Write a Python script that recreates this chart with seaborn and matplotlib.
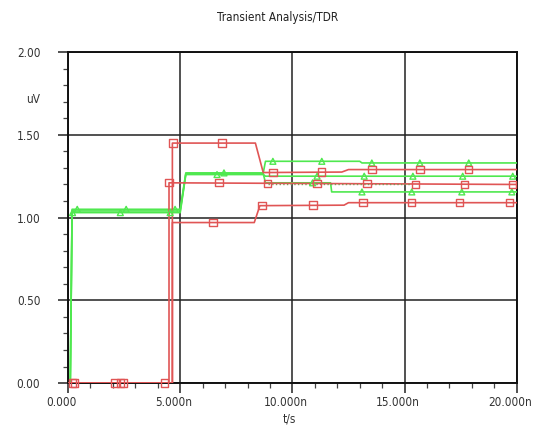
import numpy as np
import matplotlib
matplotlib.use("Agg")
import matplotlib.pyplot as plt
import matplotlib.transforms as mtrans
from matplotlib.ticker import MultipleLocator, FixedLocator
import seaborn as sns

# ---- data (time in ns, voltage in uV) ----
# red traces
r1_t = [0, 4.65, 4.65, 8.35, 8.7, 12.2, 12.5, 20]
r1_v = [0, 0, 1.45, 1.45, 1.272, 1.275, 1.29, 1.29]
r2_t = [0, 4.5, 4.5, 20]
r2_v = [0, 0, 1.21, 1.20]
r3_t = [0, 4.65, 4.65, 8.3, 8.55, 12.3, 12.5, 20]
r3_v = [0, 0, 0.97, 0.97, 1.072, 1.075, 1.09, 1.09]

# green traces
g1_t = [0, 0.1, 0.18, 5.0, 5.25, 8.7, 8.8, 13.0, 13.1, 20]
g1_v = [0, 0, 1.05, 1.05, 1.27, 1.27, 1.34, 1.34, 1.33, 1.33]
g2_t = [0, 0.1, 0.18, 5.0, 5.25, 8.7, 8.8, 20]
g2_v = [0, 0, 1.03, 1.03, 1.26, 1.26, 1.25, 1.25]
g3_t = [0, 0.1, 0.18, 5.0, 5.25, 8.7, 8.8, 11.7, 11.75, 20]
g3_v = [0, 0, 1.04, 1.04, 1.265, 1.265, 1.21, 1.21, 1.155, 1.155]

# dotted ripple segment
rip_t = [8.9, 15.3]
rip_v = [1.205, 1.205]

# marker positions
r1_mt = [0.3, 2.48, 4.68, 6.86, 9.13, 11.31, 13.54, 15.68, 17.86]
r1_mv = [0, 0, 1.45, 1.45, 1.272, 1.275, 1.29, 1.29, 1.29]
r2_mt = [0.2, 2.35, 4.5, 6.73, 8.9, 11.09, 13.32, 15.5, 17.68, 19.82]
r2_mv = [0, 0, 1.21, 1.21, 1.205, 1.205, 1.205, 1.20, 1.20, 1.20]
r3_mt = [2.1, 4.3, 6.46, 8.64, 10.91, 13.14, 15.32, 17.46, 19.69]
r3_mv = [0, 0, 0.97, 1.072, 1.075, 1.09, 1.09, 1.09, 1.09]

g1_mt = [0.41, 2.59, 4.77, 6.95, 9.13, 11.31, 13.54, 15.68, 17.86]
g1_mv = [1.05, 1.05, 1.05, 1.27, 1.34, 1.34, 1.33, 1.33, 1.33]
g2_mt = [0.2, 2.33, 4.55, 6.64, 11.1, 13.2, 15.37, 17.59, 19.82]
g2_mv = [1.03, 1.03, 1.03, 1.26, 1.25, 1.25, 1.25, 1.25, 1.25]
g3_mt = [10.9, 13.1, 15.32, 17.55, 19.78]
g3_mv = [1.21, 1.155, 1.155, 1.155, 1.155]

x_ticks = [0, 5, 10, 15, 20]
x_labels = ["0.000", "5.000n", "10.000n", "15.000n", "20.000n"]
y_ticks = [0, 0.5, 1.0, 1.5, 2.0]
y_labels = ["0.00", "0.50", "1.00", "1.50", "2.00"]

RED = "#e05555"
GREEN = "#4fe84f"

sns.set_style("white")
plt.rcParams["font.family"] = ["DejaVu Sans"]
plt.rcParams["font.stretch"] = "condensed"

fig = plt.figure(figsize=(5.4, 4.3), dpi=100)
ax = fig.add_axes([0.126, 0.109, 0.831, 0.770])

# lines
for t, v in [(g1_t, g1_v), (g2_t, g2_v), (g3_t, g3_v)]:
    sns.lineplot(x=t, y=v, sort=False, estimator=None, color=GREEN, linewidth=1.2, ax=ax, zorder=3)
for t, v in [(r1_t, r1_v), (r2_t, r2_v), (r3_t, r3_v)]:
    sns.lineplot(x=t, y=v, sort=False, estimator=None, color=RED, linewidth=1.2, ax=ax, zorder=3)
sns.lineplot(x=rip_t, y=rip_v, sort=False, estimator=None, color="#7c9a55",
             linewidth=1.0, linestyle=":", ax=ax, zorder=3)

# markers
for t, v in [(g1_mt, g1_mv), (g2_mt, g2_mv), (g3_mt, g3_mv)]:
    sns.scatterplot(x=t, y=v, marker="^", s=18, facecolor="none", edgecolor=GREEN,
                    linewidth=1.0, ax=ax, zorder=4, clip_on=False)
for t, v in [(r1_mt, r1_mv), (r2_mt, r2_mv), (r3_mt, r3_mv)]:
    sns.scatterplot(x=t, y=v, marker="s", s=28, facecolor="none", edgecolor=RED,
                    linewidth=1.0, ax=ax, zorder=4, clip_on=False)

ax.set_xlim(0, 20)
ax.set_ylim(0, 2.0)
ax.xaxis.set_major_locator(FixedLocator(x_ticks))
ax.set_xticklabels(x_labels)
ax.yaxis.set_major_locator(FixedLocator(y_ticks))
ax.set_yticklabels(y_labels)
ax.xaxis.set_minor_locator(MultipleLocator(1))
ax.yaxis.set_minor_locator(MultipleLocator(0.1))

ax.grid(True, which="major", color="#222222", linewidth=1.1)
ax.set_axisbelow(True)
for s in ax.spines.values():
    s.set_color("#111111")
    s.set_linewidth(1.4)

ax.tick_params(which="both", bottom=True, left=True, top=False, right=False)
ax.tick_params(which="major", direction="out", length=7, width=1.1, color="#222222",
               labelsize=8.5, labelcolor="#333333")
ax.tick_params(axis="y", which="major", pad=13)
ax.tick_params(axis="x", which="major", pad=2)
ax.tick_params(which="minor", direction="out", length=3.5, width=0.9, color="#444444")

# shift x tick labels slightly left like the original
offset = mtrans.ScaledTranslation(-7 / 100, 0, fig.dpi_scale_trans)
for lbl in ax.get_xticklabels():
    lbl.set_transform(lbl.get_transform() + offset)

ax.set_xlabel("t/s", fontsize=8.5, color="#333333")
ax.xaxis.set_label_coords(0.494, -0.09)
ax.set_ylabel("uV", fontsize=8.5, color="#333333", rotation=0, va="center", ha="center")
ax.yaxis.set_label_coords(-0.078, 0.858)

fig.text(278 / 540, 1 - 18 / 430, "Transient Analysis/TDR", ha="center", va="center",
         fontsize=8.5, color="#222222")

fig.savefig("out.png", dpi=100)
